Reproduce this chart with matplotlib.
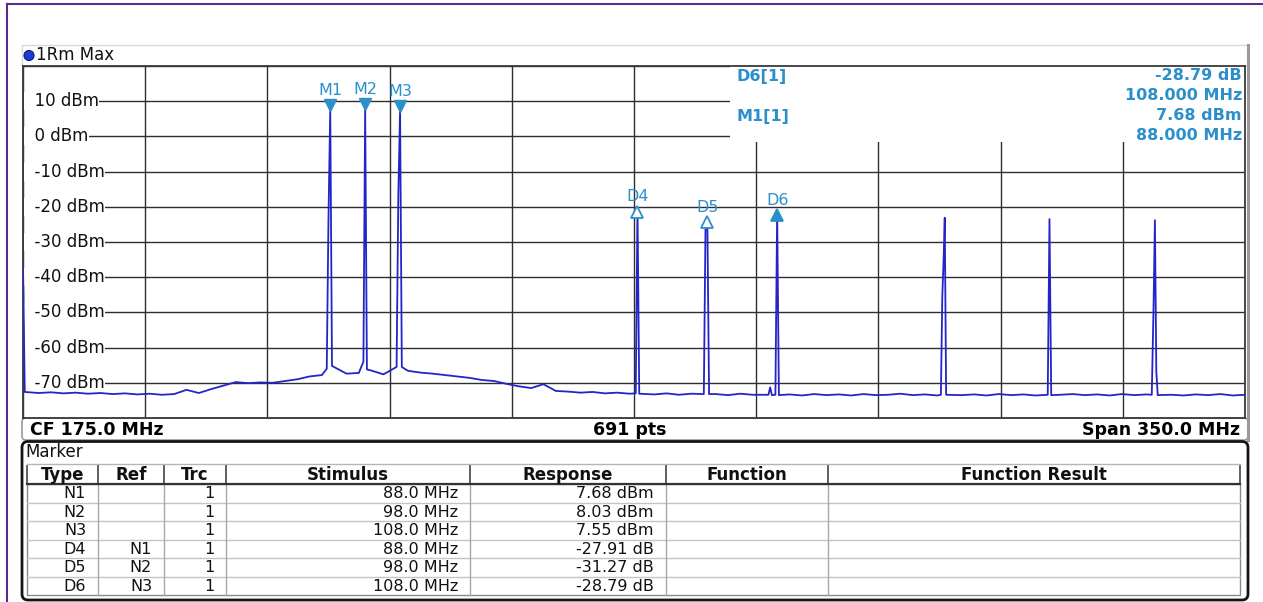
import numpy as np
import matplotlib
matplotlib.use("Agg")
import matplotlib.pyplot as plt
from matplotlib.patches import Rectangle, FancyBboxPatch, Circle
from matplotlib.transforms import ScaledTranslation

# sweep settings
center_mhz = 175.0
span_mhz = 350.0
sweep_pts = 691
ref_top_dbm = 20
ref_bottom_dbm = -80

# noise floor, evenly spaced from 1 to 350 MHz
floor_dbm = [
    -72.6, -72.9, -72.7, -73.0, -72.8, -73.1, -72.9, -73.2, -73.0, -73.3,
    -73.1, -73.4, -73.2, -72.0, -72.9, -71.8, -70.8, -69.8, -70.1, -69.9,
    -70.0, -69.5, -69.0, -68.2, -67.8, -66.8, -67.4, -67.2, -66.5, -67.6,
    -67.0, -66.6, -67.1, -67.4, -67.8, -68.2, -68.6, -69.2, -69.5, -70.3,
    -71.0, -71.5, -70.4, -72.3, -72.5, -72.8, -72.6, -73.0, -72.8, -73.1,
    -73.0, -73.3, -73.0, -73.4, -73.1, -73.3, -73.2, -73.5, -73.1, -73.4,
    -73.6, -73.3, -73.3, -73.6, -73.2, -73.5, -73.3, -73.6, -73.2, -73.5,
    -73.4, -73.1, -73.5, -73.3, -73.6, -73.2, -73.5, -73.3, -73.6, -73.2,
    -73.5, -73.3, -73.6, -73.4, -73.4, -73.2, -73.5, -73.3, -73.6, -73.2,
    -73.5, -73.3, -73.4, -73.4, -73.6, -73.3, -73.5, -73.2, -73.6, -73.4,
]

# trace samples around the carriers and harmonics
spike_mhz = [0.0, 0.5,
             87.0, 87.5, 88.0, 88.5,
             97.5, 98.0, 98.5,
             107.0, 107.5, 108.0, 108.5,
             175.5, 176.0, 176.5,
             195.0, 195.5, 196.0, 196.5,
             213.5, 214.0, 214.5,
             215.5, 216.0, 216.5,
             262.9, 263.3, 263.7, 264.0, 264.4,
             293.5, 294.0, 294.5,
             323.3, 323.8, 324.2, 324.6, 325.0]
spike_dbm = [-36.0, -72.6,
             -66.0, -22.8, 7.68, -65.2,
             -64.0, 8.03, -66.2,
             -65.5, -16.7, 7.55, -65.5,
             -73.0, -20.23, -73.1,
             -73.2, -23.8, -23.24, -73.2,
             -73.4, -71.3, -73.5,
             -73.4, -21.24, -73.5,
             -73.4, -45.5, -34.2, -23.1, -73.4,
             -73.4, -23.5, -73.5,
             -73.4, -48.8, -23.8, -66.8, -73.5]

# marker table
mk_type = ["N1", "N2", "N3", "D4", "D5", "D6"]
mk_ref = ["", "", "", "N1", "N2", "N3"]
mk_trc = [1, 1, 1, 1, 1, 1]
mk_stim = [88.0, 98.0, 108.0, 88.0, 98.0, 108.0]
mk_resp = [7.68, 8.03, 7.55, -27.91, -31.27, -28.79]

trace_col = "#2424c8"
mk_col = "#2b8fcb"
W, H = 1263, 602

# ---- build the trace ----
floor_mhz = np.linspace(1.0, span_mhz, len(floor_dbm))
sp = np.array(spike_mhz)
keep = [np.min(np.abs(sp - f)) > 1.0 for f in floor_mhz]
f_all = np.concatenate([floor_mhz[keep], sp])
l_all = np.concatenate([np.array(floor_dbm)[keep], np.array(spike_dbm)])
order = np.argsort(f_all, kind="stable")
f_all, l_all = f_all[order], l_all[order]

fig = plt.figure(figsize=(W / 100, H / 100), dpi=100)
ov = fig.add_axes([0, 0, 1, 1])
ov.set_xlim(0, W)
ov.set_ylim(H, 0)
ov.axis("off")

left, right, top, bottom = 23, 1245, 66, 418
ax = fig.add_axes([left / W, 1 - bottom / H, (right - left) / W, (bottom - top) / H])
ax.set_zorder(2)
ax.set_xlim(0, span_mhz)
ax.set_ylim(ref_bottom_dbm, ref_top_dbm)
ax.set_xticks(np.linspace(0, span_mhz, 11))
ax.set_yticks(np.arange(ref_bottom_dbm, ref_top_dbm + 1, 10))
ax.tick_params(length=0, labelbottom=False, labelleft=False)
ax.grid(True, color="#2e2e2e", lw=1.0)
ax.set_axisbelow(True)
for s in ax.spines.values():
    s.set_color("#3a3a3a")
    s.set_linewidth(1.3)

# outer purple frame
ov.plot([7, 7], [4, H], color="#5b2c90", lw=1.5)
ov.plot([7, W], [4, 4], color="#5b2c90", lw=1.5)

# title strip
ov.add_patch(Rectangle((22, 45), 1226, 21, facecolor="white", edgecolor="#d8d8d8", lw=1))
ov.plot([1248, 1248], [45, 440], color="#9a9a9a", lw=2.2)
ov.add_patch(Circle((29, 55.5), 5, facecolor="#1f3bd6", edgecolor="#0b1a80", lw=0.8))
ov.text(36, 55.5, "1Rm Max", fontsize=12, va="center", ha="left", color="#111")

# level labels inside the grid
for v in range(ref_bottom_dbm + 10, ref_top_dbm, 10):
    ax.text(0.4, v, f"  {v} dBm", fontsize=12, ha="left", va="center", color="#111",
            zorder=1.5, bbox=dict(boxstyle="square,pad=0", facecolor="white", edgecolor="none"))

# marker info box
ax.add_patch(Rectangle((202.5, -1.5), span_mhz - 202.5, ref_top_dbm + 1.5,
                       facecolor="white", edgecolor="none", zorder=1))

ax.plot(f_all, l_all, color=trace_col, lw=1.3, zorder=3)

# markers
freqs, levels = {}, {}
for t, r, st, rs in zip(mk_type, mk_ref, mk_stim, mk_resp):
    if r == "":
        freqs[t], levels[t] = st, rs
    else:
        freqs[t], levels[t] = freqs[r] + st, levels[r] + rs

dpi_tr = fig.dpi_scale_trans
for t in mk_type:
    f, lv = freqs[t], levels[t]
    if t.startswith("N"):
        name = "M" + t[1:]
        ax.plot(f, lv, marker="v", ms=8, color=mk_col, mec=mk_col, zorder=4,
                transform=ax.transData + ScaledTranslation(0, 3 / 72, dpi_tr))
        ax.text(f, lv, name, fontsize=11.5, color=mk_col, ha="center", va="bottom", zorder=4,
                transform=ax.transData + ScaledTranslation(0, 8 / 72, dpi_tr))
    else:
        filled = t == mk_type[-1]
        ax.plot(f, lv, marker="^", ms=8, color=mk_col, mec=mk_col,
                mfc=mk_col if filled else "white", mew=1.3, zorder=4,
                transform=ax.transData + ScaledTranslation(0, -3 / 72, dpi_tr))
        ax.text(f, lv, t, fontsize=11.5, color=mk_col, ha="center", va="bottom", zorder=4,
                transform=ax.transData + ScaledTranslation(0, 2.5 / 72, dpi_tr))

# readout in the upper right
act = mk_type[-1]
i_act = mk_type.index(act)
info = [
    (736, 76, f"{act}[1]", "left"),
    (1242, 76, f"{mk_resp[i_act]:.2f} dB", "right"),
    (1242, 96, f"{mk_stim[i_act]:.3f} MHz", "right"),
    (736, 116, "M1[1]", "left"),
    (1242, 116, f"{mk_resp[0]:.2f} dBm", "right"),
    (1242, 135, f"{mk_stim[0]:.3f} MHz", "right"),
]
for x, y, s, ha in info:
    ax.text(x, y, s, transform=ov.transData, fontsize=11.5, fontweight="bold",
            color=mk_col, ha=ha, va="center", zorder=5, clip_on=False)

# status bar below the grid
ov.add_patch(FancyBboxPatch((22, 418), 1226, 22, boxstyle="round,pad=0,rounding_size=4",
                            facecolor="white", edgecolor="#9a9a9a", lw=1.2))
ov.text(30, 430, f"CF {center_mhz:.1f} MHz", fontsize=12.5, fontweight="bold", va="center")
ov.text(630, 430, f"{sweep_pts} pts", fontsize=12.5, fontweight="bold", va="center", ha="center")
ov.text(1240, 430, f"Span {span_mhz:.1f} MHz", fontsize=12.5, fontweight="bold",
        va="center", ha="right")

# marker table
ov.add_patch(FancyBboxPatch((22, 441.5), 1226, 158.5, boxstyle="round,pad=0,rounding_size=6",
                            facecolor="white", edgecolor="#151515", lw=2))
ov.text(25, 452, "Marker", fontsize=12, va="center", color="#111")
cols = [27, 98, 164, 226, 470, 666, 828, 1240]
heads = ["Type", "Ref", "Trc", "Stimulus", "Response", "Function", "Function Result"]
h_top, h_bot = 464, 484
row_h = 18.5
ov.plot([27, 1240], [h_top, h_top], color="#b5b5b5", lw=1)
for x in cols:
    ov.plot([x, x], [h_top + 2, h_bot], color="#444", lw=1.2)
for k, hd in enumerate(heads):
    ov.text((cols[k] + cols[k + 1]) / 2, (h_top + h_bot) / 2 + 1, hd, fontsize=12,
            fontweight="bold", ha="center", va="center", color="#111")
body_bot = h_bot + row_h * len(mk_type)
ov.add_patch(Rectangle((27, h_bot), 1213, body_bot - h_bot, facecolor="white",
                       edgecolor="#8a8a8a", lw=1))
for r in range(1, len(mk_type)):
    y = h_bot + r * row_h
    ov.plot([27, 1240], [y, y], color="#c4c4c4", lw=1)
for x in cols[1:-1]:
    ov.plot([x, x], [h_bot, body_bot], color="#a8a8a8", lw=1)
ov.plot([27, 1240], [h_bot, h_bot], color="#333", lw=1.6)

for r in range(len(mk_type)):
    y = h_bot + (r + 0.5) * row_h + 0.5
    unit = "dBm" if mk_ref[r] == "" else "dB"
    cells = [mk_type[r], mk_ref[r], str(mk_trc[r]), f"{mk_stim[r]:.1f} MHz",
             f"{mk_resp[r]:.2f} {unit}"]
    for k, s in enumerate(cells):
        ov.text(cols[k + 1] - 12, y, s, fontsize=11.5, ha="right", va="center", color="#111")

fig.savefig("out.png", dpi=100)
